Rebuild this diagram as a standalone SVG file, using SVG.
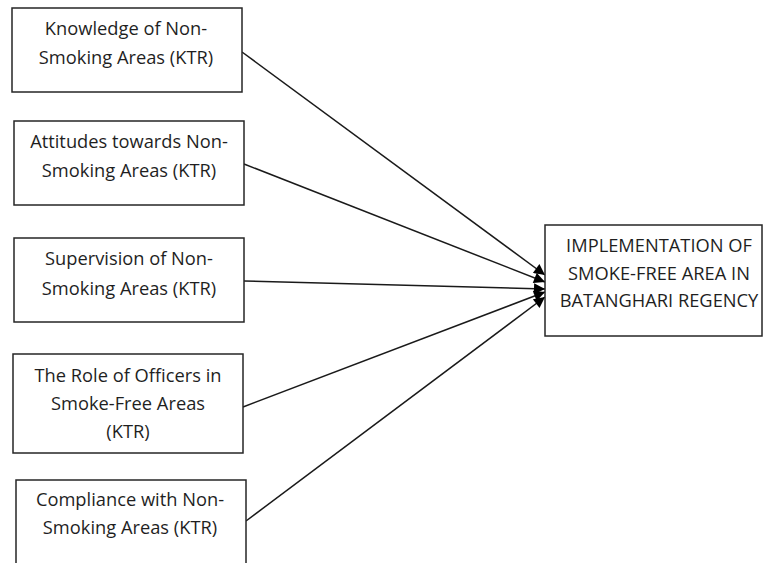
<svg xmlns="http://www.w3.org/2000/svg" width="763" height="563" viewBox="0 0 763 563">
<style>
.box{fill:#fff;stroke:#262626;stroke-width:1.5}
.t{font-family:"Open Sans","Liberation Sans",sans-serif;font-size:18.3px;fill:#1f1f1f;text-anchor:middle}
.c{stroke:#1a1a1a;stroke-width:1.5;fill:none;marker-end:url(#ah)}
</style>
<defs>
<marker id="ah" viewBox="0 0 10 10" refX="10" refY="5" markerWidth="13" markerHeight="11" orient="auto" markerUnits="userSpaceOnUse">
<path d="M0,0 L10,5 L0,10 z" fill="#000"/>
</marker>
</defs>
<rect width="763" height="563" fill="#fff"/>
<g id="connectors">
<line class="c" x1="242" y1="52" x2="545" y2="275"/>
<line class="c" x1="244" y1="164" x2="545" y2="282"/>
<line class="c" x1="244" y1="281" x2="545" y2="289"/>
<line class="c" x1="243" y1="407" x2="545" y2="292"/>
<line class="c" x1="246" y1="521" x2="545" y2="297"/>
</g>
<g id="n1">
<rect class="box" x="12" y="8" width="230" height="84"/>
<text class="t" x="126" y="35">Knowledge of Non-</text>
<text class="t" x="126" y="64">Smoking Areas (KTR)</text>
</g>
<g id="n2">
<rect class="box" x="14" y="121" width="230" height="84"/>
<text class="t" x="129" y="148">Attitudes towards Non-</text>
<text class="t" x="129" y="177">Smoking Areas (KTR)</text>
</g>
<g id="n3">
<rect class="box" x="14" y="238" width="230" height="84"/>
<text class="t" x="129" y="265">Supervision of Non-</text>
<text class="t" x="129" y="295">Smoking Areas (KTR)</text>
</g>
<g id="n4">
<rect class="box" x="13" y="354" width="230" height="99"/>
<text class="t" x="128" y="382">The Role of Officers in</text>
<text class="t" x="128" y="410">Smoke-Free Areas</text>
<text class="t" x="128" y="438">(KTR)</text>
</g>
<g id="n5">
<rect class="box" x="16" y="480" width="230" height="100"/>
<text class="t" x="130" y="506">Compliance with Non-</text>
<text class="t" x="130" y="534">Smoking Areas (KTR)</text>
</g>
<g id="target">
<rect class="box" x="545" y="225" width="217" height="111"/>
<text class="t" x="659" y="252">IMPLEMENTATION OF</text>
<text class="t" x="659" y="280">SMOKE-FREE AREA IN</text>
<text class="t" x="659" y="307">BATANGHARI REGENCY</text>
</g>
</svg>
